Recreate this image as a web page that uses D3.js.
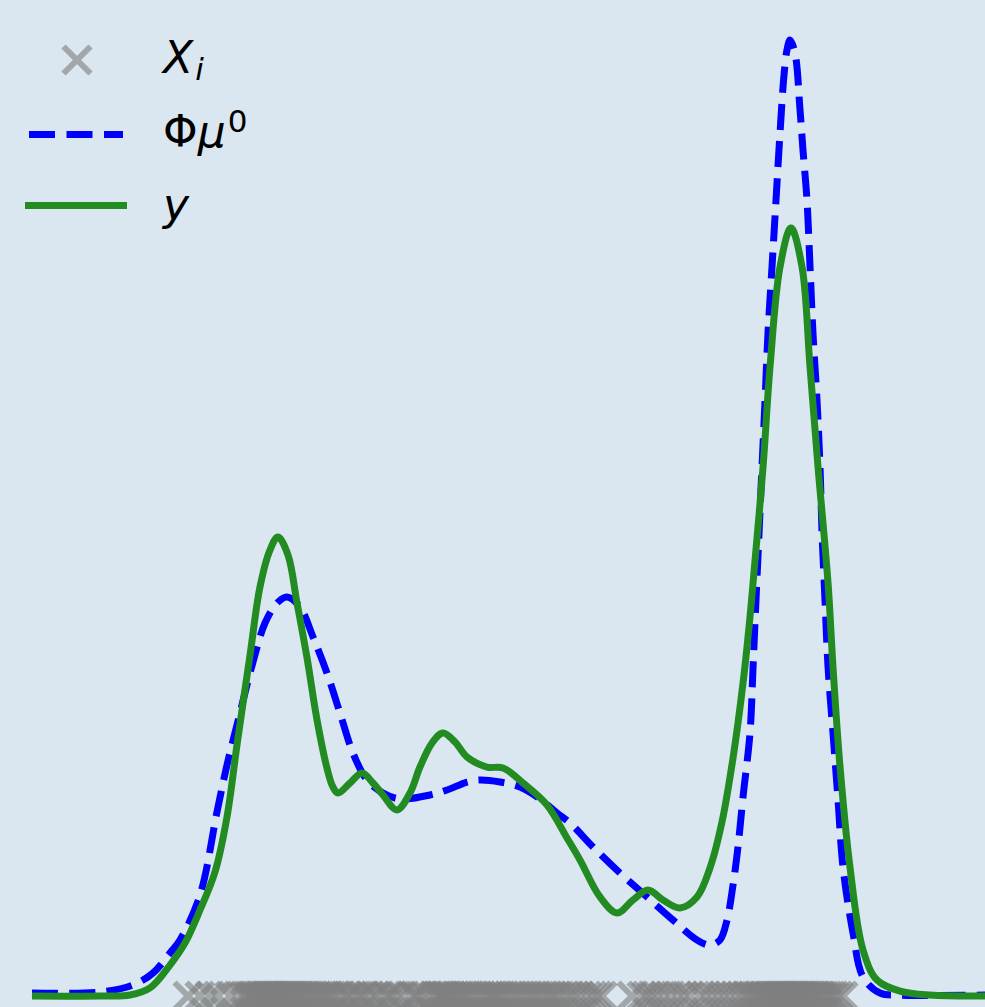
<!DOCTYPE html>
<html>
<head>
<meta charset="utf-8">
<script src="https://cdn.jsdelivr.net/npm/d3@7/dist/d3.min.js"></script>
<style>
  body { margin: 0; background: #dae6f0; }
  svg { display: block; }
  .math { font-family: "DejaVu Sans", sans-serif; font-size: 44px; fill: #000; }
</style>
</head>
<body>
<svg id="chart"></svg>
<script>
// sample points X_i
const samples = [16.37, 17.63, 18.68, 19.52, 20.78, 21.62, 22.25, 22.5, 22.77, 23.0, 23.29, 23.5,
    23.71, 23.9, 24.13, 24.3, 24.45, 24.6, 24.76, 24.9, 25.08, 25.2, 25.39, 25.55, 25.71, 25.85, 26.02,
    26.2, 26.34, 26.5, 26.65, 26.8, 26.97, 27.1, 27.28, 27.45, 27.60, 27.8, 28.02, 28.2, 28.44, 28.7,
    28.96, 29.3, 29.59, 29.9, 30.22, 30.5, 30.85, 31.1, 31.48, 31.9, 32.32, 32.95, 33.2, 33.58, 34.21,
    34.5, 34.84, 35.47, 36.0, 36.31, 37.15, 37.4, 37.78, 38.41, 38.9, 39.87, 40.2, 40.50, 41.1, 41.55,
    42.18, 42.5, 42.81, 43.0, 43.23, 43.4, 43.65, 43.9, 44.07, 44.4, 44.70, 45.0, 45.33, 45.6, 45.96,
    46.4, 46.80, 47.2, 47.64, 48.0, 48.27, 48.6, 48.90, 49.2, 49.53, 50.0, 50.37, 50.8, 51.21, 51.6,
    52.05, 52.5, 52.89, 53.3, 53.73, 54.2, 54.56, 55.0, 55.40, 56.0, 56.45, 57.0, 57.50, 58.2, 58.76,
    59.3, 59.81, 62.96, 64.01, 64.5, 65.06, 65.6, 66.32, 67.0, 67.79, 68.4, 69.04, 70.09, 70.7, 71.35,
    72.0, 72.61, 73.2, 73.87, 74.4, 74.92, 75.2, 75.55, 75.9, 76.18, 76.45, 76.71, 76.9, 77.12, 77.3,
    77.54, 77.75, 77.96, 78.1, 78.28, 78.45, 78.59, 78.75, 78.91, 79.05, 79.22, 79.4, 79.54, 79.7,
    79.85, 80.0, 80.17, 80.3, 80.48, 80.65, 80.80, 80.95, 81.11, 81.3, 81.53, 81.75, 81.95, 82.15,
    82.37, 82.6, 82.90, 83.2, 83.53, 83.85, 84.16, 84.6, 85.10]

// Phi mu^0 (dashed blue)
const muX = [0, 7.14, 10.60, 12.70, 14.48, 15.53, 17.63, 19.41, 20.46, 21.51, 23.19, 24.45, 25.71,
    26.76, 28.12, 29.49, 30.95, 32.32, 33.68, 35.15, 36.83, 38.61, 41.76, 43.55, 45.65, 47.01, 49.11,
    51.21, 53.31, 55.09, 56.45, 58.87, 61.70, 64.53, 67.26, 69.78, 71.14, 72.19, 72.93, 73.56, 74.08,
    74.61, 75.34, 75.66, 75.97, 76.29, 76.60, 76.92, 77.23, 77.65, 78.07, 78.49, 78.91, 79.22, 79.54,
    80.06, 80.59, 80.90, 81.32, 81.64, 81.95, 82.37, 82.69, 82.90, 83.21, 83.53, 84.05, 84.58, 85.10,
    86.15, 87.20, 88.98, 91.08, 100]
const muY = [0.31, 0.42, 1.15, 2.41, 4.50, 5.86, 10.56, 19.25, 24.16, 28.35, 34.94, 39.02, 41.11,
    41.74, 40.69, 37.55, 33.79, 29.60, 25.42, 22.59, 21.23, 20.61, 21.03, 21.55, 22.38, 22.59, 22.38,
    21.86, 20.61, 19.14, 18.10, 15.59, 12.87, 10.36, 7.95, 5.86, 5.33, 5.86, 7.95, 11.61, 15.59,
    20.82, 27.51, 34.41, 41.42, 48.43, 55.33, 62.34, 69.35, 76.26, 83.26, 90.27, 96.34, 98.95, 100,
    98.64, 92.68, 88.49, 83.26, 76.26, 69.35, 62.34, 55.33, 48.43, 41.42, 34.41, 27.51, 20.50, 13.49,
    6.59, 1.99, 0.31, 0.10, 0.10]

// y (solid green)
const yX = [0, 7.14, 10.28, 12.38, 14.48, 16.05, 17.63, 19.20, 20.46, 21.51, 22.88, 23.92, 24.97,
    25.81, 26.86, 27.81, 28.86, 29.91, 30.95, 31.58, 32.11, 33.37, 34.63, 35.78, 36.83, 38.30, 39.66,
    40.71, 41.97, 43.13, 44.39, 45.65, 47.74, 49.42, 51.52, 54.04, 56.14, 57.50, 59.60, 61.39, 63.06,
    64.64, 66.21, 68.00, 69.78, 71.14, 72.40, 73.56, 74.61, 75.34, 75.66, 76.71, 77.44, 78.49, 79.64,
    80.80, 81.64, 82.48, 83.53, 84.05, 84.79, 85.83, 87.20, 88.67, 91.08, 94.23, 100]
const yY = [0, 0, 0.10, 0.84, 3.24, 5.54, 9.00, 12.97, 18.72, 26.26, 35.67, 42.78, 46.65, 48.01,
    46.13, 41.11, 35.36, 28.87, 23.85, 21.86, 21.23, 22.28, 23.33, 22.28, 21.03, 19.46, 21.23, 23.95,
    26.46, 27.51, 26.57, 25.00, 23.95, 23.85, 22.28, 19.98, 16.53, 14.23, 10.36, 8.68, 10.04, 11.09,
    10.04, 9.21, 10.36, 13.39, 18.20, 24.90, 32.74, 39.64, 43.20, 55.33, 65.79, 76.26, 80.33, 76.26,
    65.79, 55.33, 43.20, 34.41, 23.95, 13.49, 4.81, 1.67, 0.52, 0.10, 0]

const colors = { samples: '#808080', mu: '#0000ff', y: '#228b22' }

function draw() {
    const w = 985
    const h = 1007
    const svg = d3.select('#chart').attr('width', w).attr('height', h)
    svg.append('rect').attr('width', w).attr('height', h).attr('fill', '#dae6f0')

    const x = d3.scaleLinear().domain([0, 100]).range([32, 985])
    const y = d3.scaleLinear().domain([0, 100]).range([996, 40])

    const cross = s => `M${-s},${-s}L${s},${s}M${-s},${s}L${s},${-s}`

    svg.append('g')
        .selectAll('path')
        .data(samples)
        .join('path')
        .attr('transform', d => `translate(${x(d)},${y(0)})`)
        .attr('d', cross(13.5))
        .attr('stroke', colors.samples)
        .attr('stroke-opacity', 0.62)
        .attr('stroke-width', 6)
        .attr('fill', 'none')

    const line = d3.line()
        .x(d => x(d[0]))
        .y(d => y(d[1]))
        .curve(d3.curveCatmullRom.alpha(0.5))

    svg.append('path')
        .datum(d3.zip(muX, muY))
        .attr('d', line)
        .attr('fill', 'none')
        .attr('stroke', colors.mu)
        .attr('stroke-width', 7)
        .attr('stroke-dasharray', '26,11.2')

    svg.append('path')
        .datum(d3.zip(yX, yY))
        .attr('d', line)
        .attr('fill', 'none')
        .attr('stroke', colors.y)
        .attr('stroke-width', 7)
        .attr('stroke-linejoin', 'round')

    // legend
    const legend = svg.append('g')
    legend.append('path')
        .attr('transform', 'translate(77,60)')
        .attr('d', cross(13.5))
        .attr('stroke', colors.samples)
        .attr('stroke-opacity', 0.62)
        .attr('stroke-width', 6)
        .attr('fill', 'none')
    legend.append('line')
        .attr('x1', 29).attr('x2', 123).attr('y1', 134.5).attr('y2', 134.5)
        .attr('stroke', colors.mu).attr('stroke-width', 7)
        .attr('stroke-dasharray', '26,11.5')
    legend.append('line')
        .attr('x1', 28.5).attr('x2', 123.5).attr('y1', 205.5).attr('y2', 205.5)
        .attr('stroke', colors.y).attr('stroke-width', 7)
        .attr('stroke-linecap', 'square')

    const t1 = legend.append('text').attr('class', 'math').attr('x', 163).attr('y', 73)
    t1.append('tspan').attr('font-style', 'italic').text('X')
    t1.append('tspan').attr('font-style', 'italic').attr('font-size', 31).attr('dy', 7).attr('dx', 2).text('i')

    const t2 = legend.append('text').attr('class', 'math').attr('x', 163).attr('y', 147)
    t2.append('tspan').text('Φ')
    t2.append('tspan').attr('font-style', 'italic').text('μ')
    t2.append('tspan').attr('font-size', 31).attr('dy', -15).attr('dx', 2).text('0')

    legend.append('text').attr('class', 'math').attr('x', 163).attr('y', 220)
        .attr('font-style', 'italic').text('y')
}

draw()
</script>
</body>
</html>
